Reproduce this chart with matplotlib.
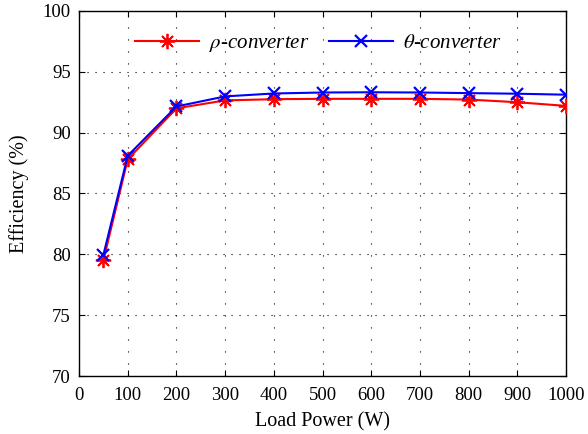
import matplotlib
matplotlib.use("Agg")
import matplotlib.pyplot as plt

plt.rcParams.update({"font.family": ["Liberation Serif", "DejaVu Serif"], "font.size": 13.5,
                     "mathtext.fontset": "stix"})

# load power (W) and measured efficiency (%)
load_w = [50, 100, 200, 300, 400, 500, 600, 700, 800, 900, 1000]
eff_rho = [79.5, 87.8, 92.0, 92.65, 92.75, 92.78, 92.78, 92.78, 92.72, 92.5, 92.2]
eff_theta = [79.95, 88.1, 92.15, 92.98, 93.22, 93.3, 93.32, 93.3, 93.25, 93.2, 93.12]
x_ticks = [0, 100, 200, 300, 400, 500, 600, 700, 800, 900, 1000]
y_ticks = [70, 75, 80, 85, 90, 95, 100]

fig = plt.figure(figsize=(5.88, 4.34), dpi=100)
ax = fig.add_axes([0.1344, 0.1336, 0.9626 - 0.1344, 0.9747 - 0.1336])

ax.plot(load_w, eff_rho, color="red", lw=1.5, marker=(8, 2, 0), ms=11, mew=1.3,
        label=r"$\rho$-converter", zorder=3)
ax.plot(load_w, eff_theta, color="blue", lw=1.5, marker="x", ms=8, mew=1.6,
        label=r"$\theta$-converter", zorder=4)

ax.set_xlim(0, 1000); ax.set_ylim(70, 100)
ax.set_xticks(x_ticks); ax.set_yticks(y_ticks)
ax.xaxis.grid(True, color="black", ls=(0, (1, 9.8)), lw=0.8)
ax.yaxis.grid(True, color="black", ls=(0, (1, 6.2)), lw=0.8)
ax.tick_params(direction="in", top=True, right=True, length=4, labelsize=13.5)
ax.tick_params(axis="x", pad=8)
ax.tick_params(axis="y", pad=6)
for s in ax.spines.values():
    s.set_linewidth(1.0)
ax.set_xlabel("Load Power (W)", fontsize=14.5, labelpad=6)
ax.set_ylabel("Efficiency (%)", fontsize=14.5, labelpad=10)

leg = ax.legend(loc="upper left", bbox_to_anchor=(0.076, 0.99), ncol=2, frameon=False,
                handlelength=3.1, columnspacing=0.95, handletextpad=0.45,
                prop={"style": "italic", "size": 15})

fig.savefig("out.png", dpi=100)
